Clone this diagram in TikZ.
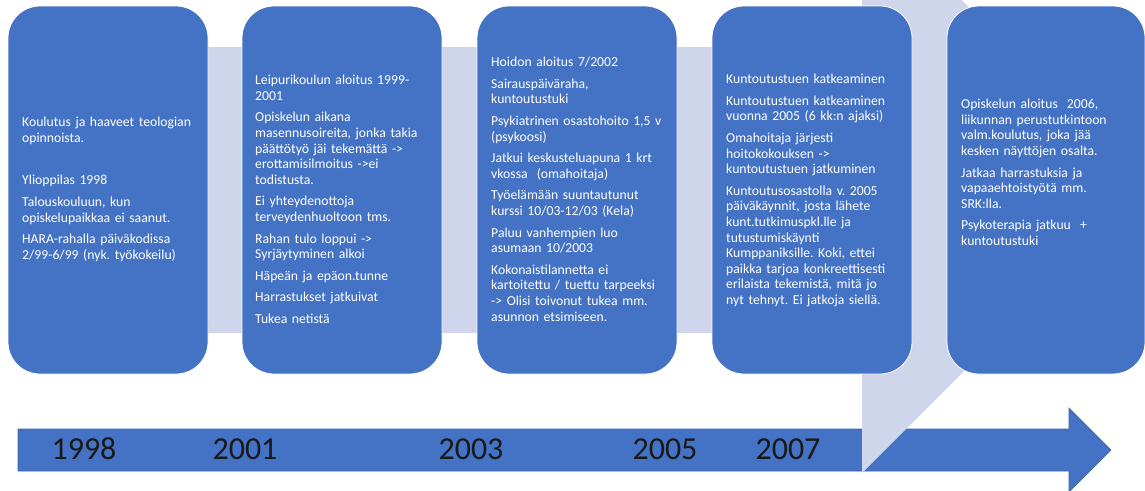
\documentclass[tikz,border=0pt]{standalone}
\usepackage{fontspec}
\setmainfont{Carlito}
\usetikzlibrary{positioning,calc}
\frenchspacing
\definecolor{boxblue}{RGB}{68,114,196}
\definecolor{bandlilac}{RGB}{207,213,234}
\tikzstyle{box} = [rectangle, rounded corners=32pt, minimum width=200pt, minimum height=368pt, fill=boxblue, draw=white, line width=0.8pt]
\tikzstyle{txt} = [anchor=north west, inner sep=0pt, text width=190pt, align=left, text=white, font=\fontsize{13.7}{15.6}\selectfont]
\tikzstyle{year} = [inner sep=0pt, text=black!90, font=\fontsize{32}{36}\selectfont]

\begin{document}
\begin{tikzpicture}[x=1pt,y=-1pt]
\useasboundingbox (0,0) rectangle (1145,490);
\clip (0,0) rectangle (1145,490);
% timeline arrow
\fill [boxblue, draw=boxblue!85!black, line width=0.6pt] (18,429) -- (1069,429) -- (1069,408) -- (1111,450) -- (1069,492) -- (1069,471) -- (18,471) -- cycle;
\node[year] (y1) at (84,449) {1998};
\node[year] (y2) at (245,449) {2001};
\node[year] (y3) at (471,449) {2003};
\node[year] (y4) at (665,449) {2005};
\node[year] (y5) at (788,449) {2007};
% background arrow
\fill [bandlilac] (8,47) -- (862,47) -- (862,-100) -- (1148,187) -- (862,473) -- (862,333) -- (8,333) -- cycle;
% boxes
\node[box] (b1) at (108,190) {};
\node[box] (b2) at (342,190) {};
\node[box] (b3) at (577,190) {};
\node[box] (b4) at (812,190) {};
\node[box, minimum width=198pt] (b5) at (1046,190) {};
\node[txt] (t1) at (22,117) {Koulutus ja haaveet teologian\\opinnoista.\\[27pt]
Ylioppilas 1998\\[6pt]
Talouskouluun, kun\\opiskelupaikkaa ei saanut.\\[6pt]
HARA-rahalla päiväkodissa\\2/99-6/99 (nyk. työkokeilu)};
\node[txt] (t2) at (255,75) {Leipurikoulun aloitus 1999-\\2001\\[6pt]
Opiskelun aikana\\masennusoireita, jonka takia\\päättötyö jäi tekemättä ->\\erottamisilmoitus ->ei\\todistusta.\\[6pt]
Ei yhteydenottoja\\terveydenhuoltoon tms.\\[6pt]
Rahan tulo loppui ->\\Syrjäytyminen alkoi\\[6pt]
Häpeän ja epäon.tunne\\[6pt]
Harrastukset jatkuivat\\[6pt]
Tukea netistä};
\node[txt] (t3) at (491,57) {Hoidon aloitus 7/2002\\[6pt]
Sairauspäiväraha,\\kuntoutustuki\\[6pt]
Psykiatrinen osastohoito 1,5 v\\(psykoosi)\\[6pt]
Jatkui keskusteluapuna 1 krt\\vkossa~ (omahoitaja)\\[6pt]
Työelämään suuntautunut\\kurssi 10/03-12/03 (Kela)\\[6pt]
Paluu vanhempien luo\\asumaan 10/2003\\[6pt]
Kokonaistilannetta ei\\kartoitettu / tuettu tarpeeksi\\-> Olisi toivonut tukea mm.\\asunnon etsimiseen.};
\node[txt] (t4) at (726,74) {Kuntoutustuen katkeaminen\\[6pt]
Kuntoutustuen katkeaminen\\vuonna 2005 (6 kk:n ajaksi)\\[6pt]
Omahoitaja järjesti\\hoitokokouksen ->\\kuntoutustuen jatkuminen\\[6pt]
Kuntoutusosastolla v. 2005\\päiväkäynnit, josta lähete\\kunt.tutkimuspkl.lle ja\\tutustumiskäynti\\Kumppaniksille. Koki, ettei\\paikka tarjoa konkreettisesti\\erilaista tekemistä, mitä jo\\nyt tehnyt. Ei jatkoja siellä.};
\node[txt] (t5) at (961,99) {Opiskelun aloitus~ 2006,\\liikunnan perustutkintoon\\valm.koulutus, joka jää\\kesken näyttöjen osalta.\\[6pt]
Jatkaa harrastuksia ja\\vapaaehtoistyötä mm.\\SRK:lla.\\[6pt]
Psykoterapia jatkuu~ +\\kuntoutustuki};
\end{tikzpicture}
\end{document}
